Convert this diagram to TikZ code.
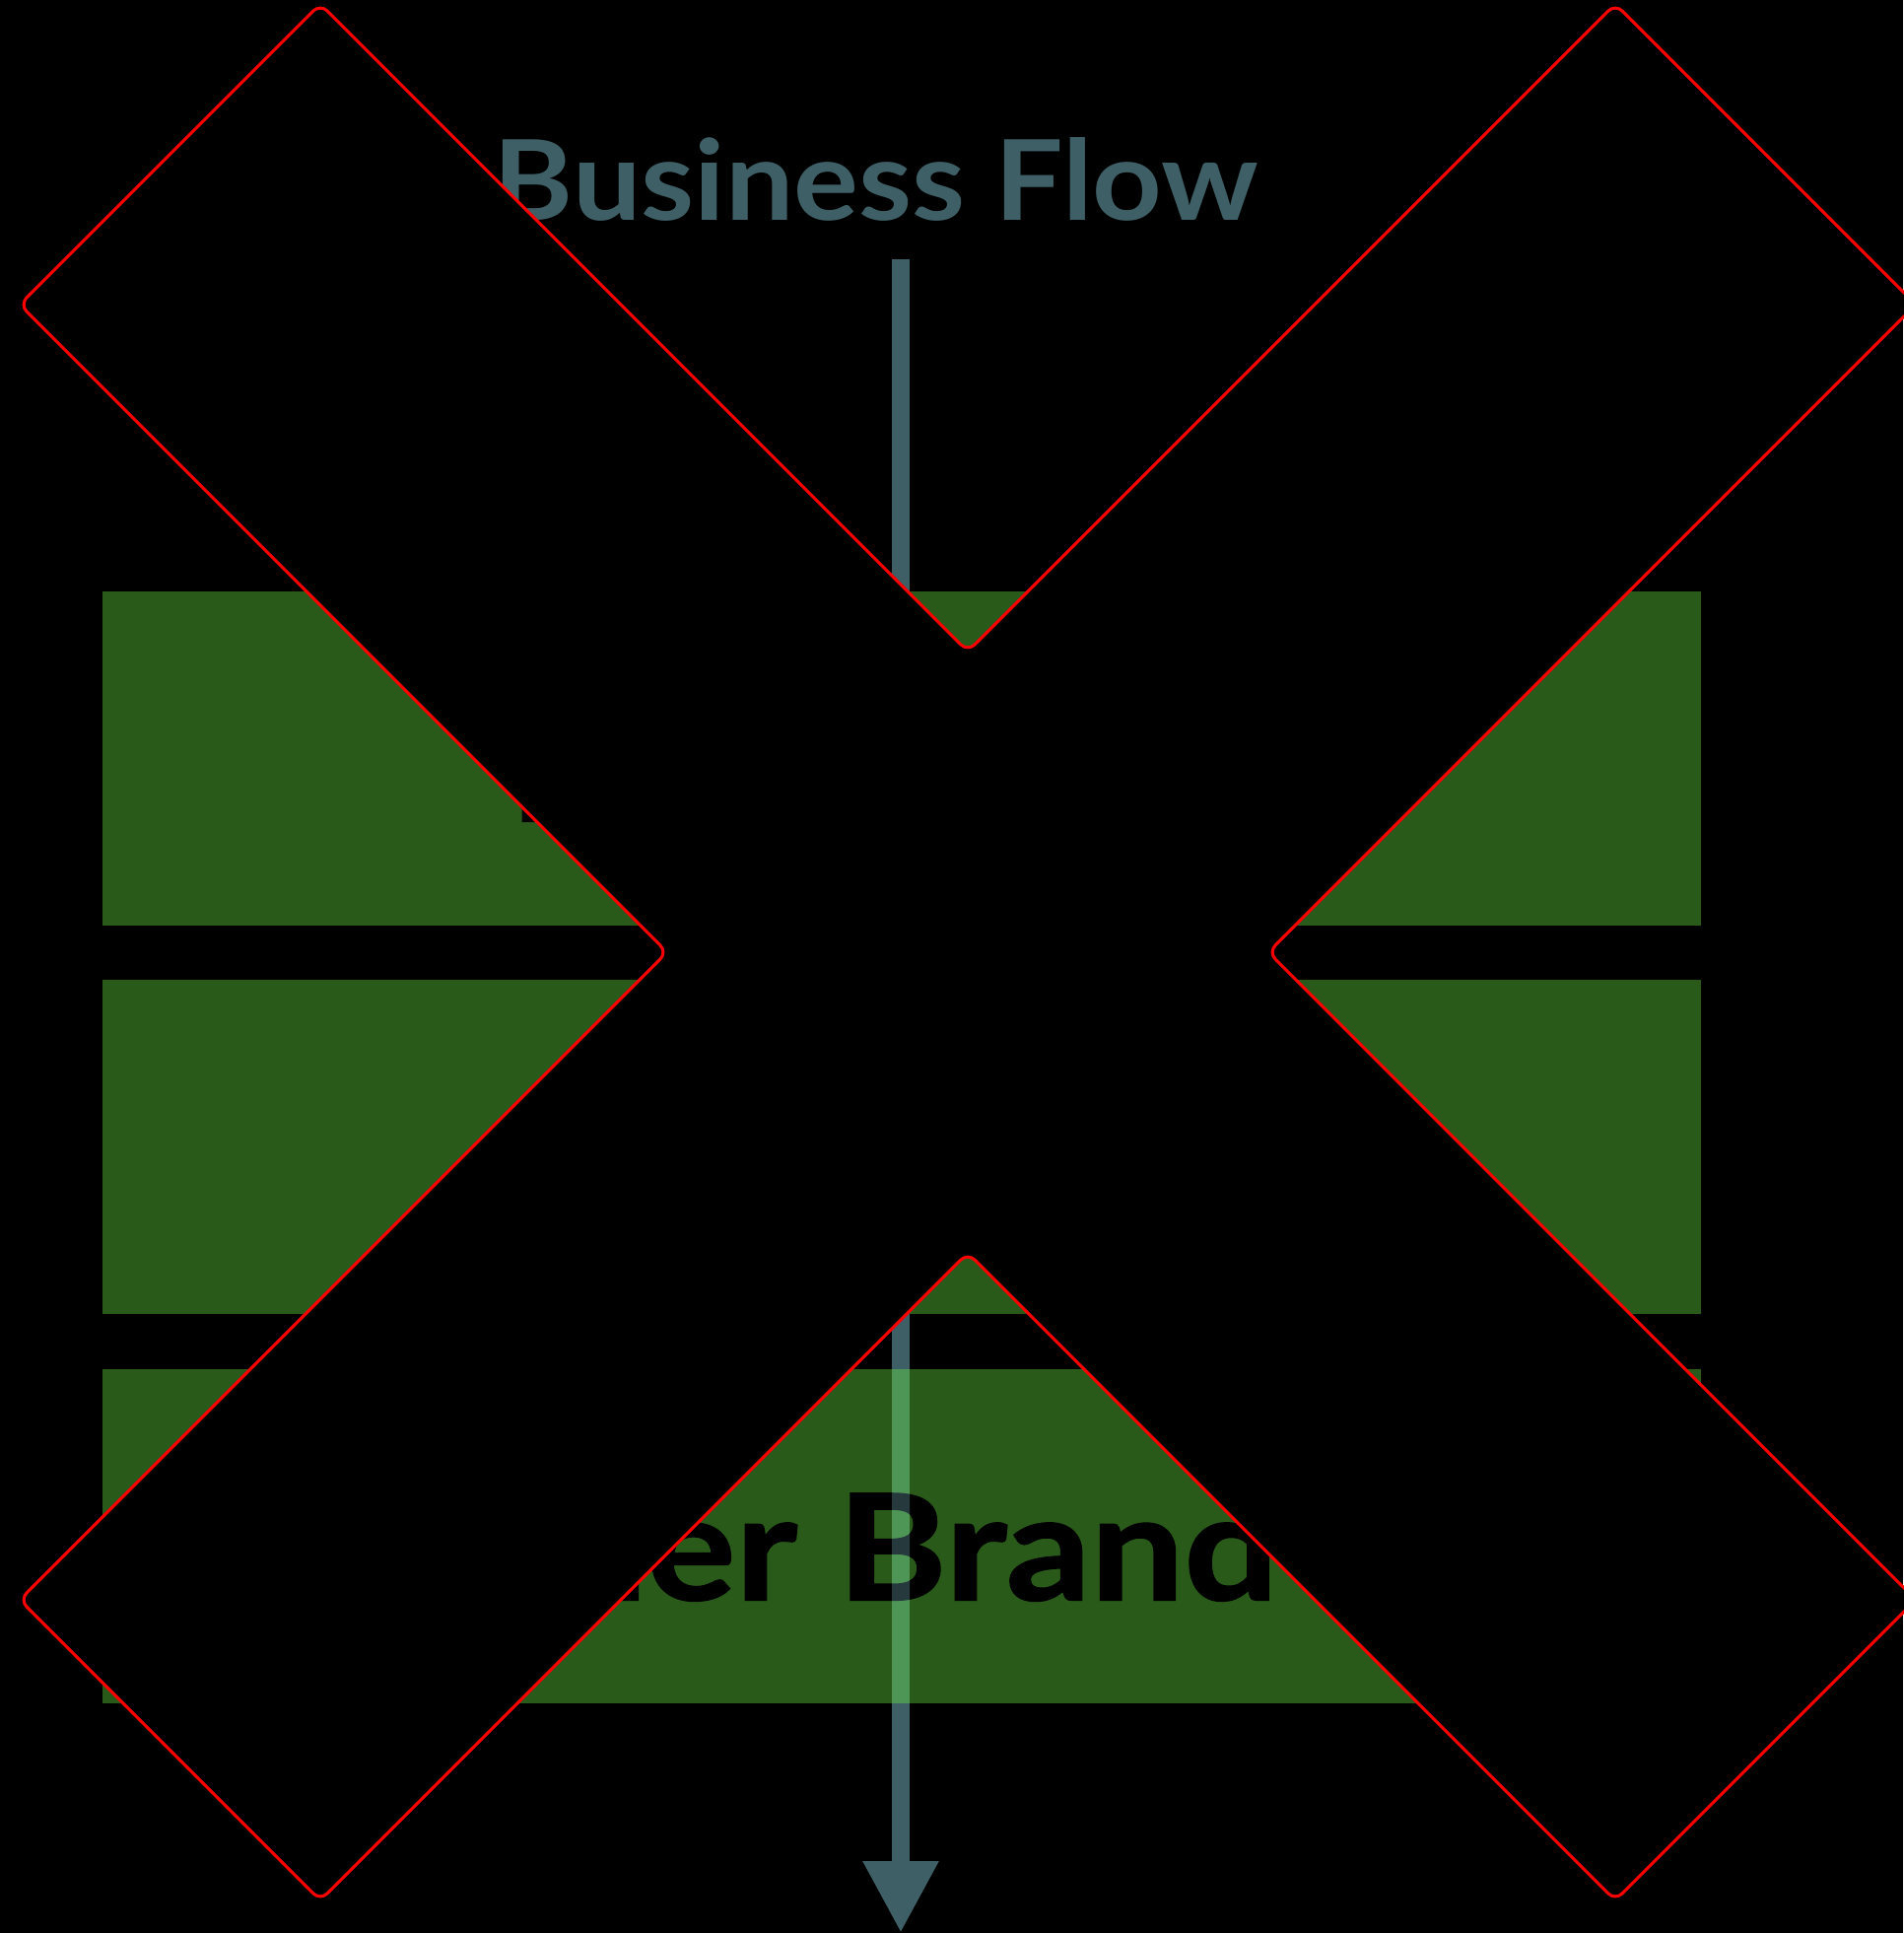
\documentclass[tikz,border=0pt]{standalone}
\usepackage{fontspec}
\setmainfont{Lato}
\newfontfamily\headingfont{Lato}[BoldFeatures={FakeStretch=1.09}]
\newfontfamily\stagefont{Lato}[BoldFeatures={FakeStretch=1.13,FakeBold=1.4}]
\usetikzlibrary{arrows.meta}
\definecolor{slate}{RGB}{63,95,102}
\definecolor{leaf}{RGB}{41,90,26}
\definecolor{flowonleaf}{RGB}{78,150,85}
\definecolor{flowontext}{RGB}{38,58,62}
\begin{document}
\begin{tikzpicture}[x=1pt,y=-1pt,
  stage/.style={fill=leaf, draw=none, inner sep=0pt, minimum width=1622pt, minimum height=339pt, anchor=north west},
  stagelabel/.style={font=\stagefont\fontsize{149}{149}\selectfont\bfseries, text=black, inner sep=0pt},
  flow/.style={draw=slate, line width=18pt, -{Triangle[width=72pt,length=73pt]}},
  cross/.style={fill=black, draw=red, line width=3pt, rounded corners=10pt, line join=round}]
% canvas
\fill[black] (0,0) rectangle (1931,1961);
\useasboundingbox (0,0) rectangle (1931,1961);

% heading
\node[anchor=base, inner sep=0pt, text=slate, font=\headingfont\fontsize{113}{113}\selectfont\bfseries] (title) at (889,224) {Business Flow};

% flow arrow running down through the stages
\coordinate (flowtop) at (914,263);
\coordinate (flowend) at (914,1961);
\draw[flow] (flowtop) -- (flowend);

% stages
\node[stage] (box1) at (104,600) {};
\node[stage] (box2) at (104,994) {};
\node[stage] (box3) at (104,1389) {};

\node[stagelabel, anchor=base west] (label1) at (517,833) {Head Office};
\node[stagelabel, anchor=base] (label2) at (915,1228) {Agency};
\node[stagelabel, anchor=base east] (label3) at (1297,1623) {Partner Brand};

% arrow showing through the last stage
\begin{scope}
  \clip (905,1389) rectangle (923,1728);
  \fill[flowonleaf] (905,1389) rectangle (923,1728);
  \node[stagelabel, anchor=base east, text=flowontext] (label3b) at (label3.base east) {Partner Brand};
\end{scope}

% cross mark over everything
\draw[cross] (325,4) -- (982,661) -- (1639,4) -- (1944,309) -- (1287,966)
  -- (1944,1623) -- (1639,1928) -- (982,1271) -- (325,1928) -- (20,1623)
  -- (677,966) -- (20,309) -- cycle;
\end{tikzpicture}
\end{document}
